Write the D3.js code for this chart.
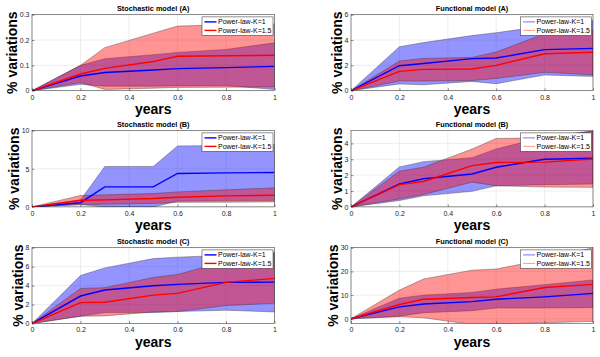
<!DOCTYPE html>
<html>
<head>
<meta charset="utf-8">
<script src="https://cdn.jsdelivr.net/npm/d3@7"></script>
<style>
  body { margin: 0; background: #fff; }
  svg { display: block; font-family: "Liberation Sans", Arial, Helvetica, sans-serif; }
</style>
</head>
<body>
<svg id="chart" width="600" height="357"></svg>
<script>
// sample times (years)
const years = [0, 0.2, 0.3, 0.5, 0.6, 0.8, 1];
const xTicks = [0, 0.2, 0.4, 0.6, 0.8, 1];
const seriesNames = ["Power-law-K=1", "Power-law-K=1.5"];

// Stochastic model (A)
const stochA_k1    = [0, 0.058, 0.072, 0.082, 0.087, 0.091, 0.096];
const stochA_k1_lo = [0, 0.025, 0.018, 0.018, 0.019, 0.02, 0.005];
const stochA_k1_hi = [0, 0.10, 0.126, 0.142, 0.151, 0.163, 0.189];
const stochA_k15    = [0, 0.066, 0.088, 0.115, 0.136, 0.138, 0.14];
const stochA_k15_lo = [0, 0.032, 0.005, 0.01, 0.013, 0.014, 0.015];
const stochA_k15_hi = [0, 0.10, 0.17, 0.227, 0.255, 0.26, 0.263];
const stochA_ticks = [0, 0.1, 0.2, 0.3];

// Functional model (A)
const funcA_k1    = [0, 1.97, 2.15, 2.53, 2.58, 3.24, 3.34];
const funcA_k1_lo = [0, 0.53, 0.47, 0.73, 0.55, 1.24, 1.13];
const funcA_k1_hi = [0, 3.47, 3.8, 4.35, 4.58, 5.1, 5.53];
const funcA_k15    = [0, 1.53, 1.68, 1.71, 2.0, 2.92, 3.03];
const funcA_k15_lo = [0, 0.76, 0.76, 0.8, 0.97, 1.45, 1.26];
const funcA_k15_hi = [0, 2.34, 2.55, 2.63, 3.05, 4.5, 4.76];
const funcA_ticks = [0, 2, 4, 6];

// Stochastic model (B)
const stochB_k1    = [0, 0.55, 2.63, 2.63, 4.39, 4.47, 4.52];
const stochB_k1_lo = [0, 0.3, 0, 0, 0.75, 0.8, 0.85];
const stochB_k1_hi = [0, 0.9, 5.3, 5.3, 8.0, 8.07, 8.2];
const stochB_k15    = [0, 0.88, 0.92, 1.1, 1.27, 1.45, 1.53];
const stochB_k15_lo = [0, 0.3, 0.35, 0.45, 0.6, 0.62, 0.65];
const stochB_k15_hi = [0, 1.5, 1.58, 1.75, 1.97, 2.24, 2.5];
const stochB_ticks = [0, 5, 10];

// Functional model (B)
const funcB_k1    = [0, 1.44, 1.77, 2.07, 2.5, 3.0, 3.06];
const funcB_k1_lo = [0, 0.4, 0.7, 0.98, 1.33, 1.4, 1.44];
const funcB_k1_hi = [0, 2.52, 2.85, 3.1, 3.65, 4.4, 4.8];
const funcB_k15    = [0, 1.4, 1.6, 2.6, 2.8, 2.82, 3.02];
const funcB_k15_lo = [0, 0.5, 0.78, 1.56, 1.33, 1.25, 1.23];
const funcB_k15_hi = [0, 2.25, 2.5, 3.64, 4.31, 4.35, 4.77];
const funcB_ticks = [0, 1, 2, 3, 4];

// Stochastic model (C)
const stochC_k1    = [0, 2.9, 3.53, 3.99, 4.13, 4.34, 4.37];
const stochC_k1_lo = [0, 0.77, 1.15, 1.15, 1.26, 1.4, 1.22];
const stochC_k1_hi = [0, 5.07, 5.87, 6.85, 7.0, 7.2, 7.55];
const stochC_k15    = [0, 2.2, 2.24, 3.0, 3.18, 4.34, 4.76];
const stochC_k15_lo = [0, 0.77, 0.8, 1.22, 1.26, 1.89, 2.13];
const stochC_k15_hi = [0, 3.7, 3.78, 4.86, 5.17, 6.57, 7.35];
const stochC_ticks = [0, 2, 4, 6, 8];

// Functional model (C)
const funcC_k1    = [0, 5.0, 6.26, 7.25, 8.25, 9.25, 10.7];
const funcC_k1_lo = [0, 1.1, 2.56, 3.4, 4.55, 4.55, 4.7];
const funcC_k1_hi = [0, 8.7, 9.96, 11.1, 12.5, 14.4, 16.4];
const funcC_k15    = [0, 6.0, 8.25, 8.96, 9.25, 13.2, 14.5];
const funcC_k15_lo = [0, 0.85, 0.4, -2.4, -2.2, -1.7, -1.1];
const funcC_k15_hi = [0, 12.1, 16.8, 20.5, 21.0, 25.0, 30.0];
const funcC_ticks = [0, 10, 20, 30];

// layout of the 3x2 grid of axes
const cols = [{ left: 32, right: 274.5 }, { left: 351, right: 593 }];
const rows = [{ top: 14.7, bottom: 90.7 }, { top: 130.7, bottom: 206.9 }, { top: 247.7, bottom: 323.5 }];

const panels = [
  { title: "Stochastic model (A)", col: 0, row: 0, ydom: [0, 0.3], ticks: stochA_ticks,
    k1: [stochA_k1, stochA_k1_lo, stochA_k1_hi], k15: [stochA_k15, stochA_k15_lo, stochA_k15_hi], thin: false },
  { title: "Functional model (A)", col: 1, row: 0, ydom: [0, 6], ticks: funcA_ticks,
    k1: [funcA_k1, funcA_k1_lo, funcA_k1_hi], k15: [funcA_k15, funcA_k15_lo, funcA_k15_hi], thin: true },
  { title: "Stochastic model (B)", col: 0, row: 1, ydom: [0, 10], ticks: stochB_ticks,
    k1: [stochB_k1, stochB_k1_lo, stochB_k1_hi], k15: [stochB_k15, stochB_k15_lo, stochB_k15_hi], thin: false },
  { title: "Functional model (B)", col: 1, row: 1, ydom: [0, 4.8], ticks: funcB_ticks,
    k1: [funcB_k1, funcB_k1_lo, funcB_k1_hi], k15: [funcB_k15, funcB_k15_lo, funcB_k15_hi], thin: true },
  { title: "Stochastic model (C)", col: 0, row: 2, ydom: [0, 8], ticks: stochC_ticks,
    k1: [stochC_k1, stochC_k1_lo, stochC_k1_hi], k15: [stochC_k15, stochC_k15_lo, stochC_k15_hi], thin: false },
  { title: "Functional model (C)", col: 1, row: 2, ydom: [-2, 30], ticks: funcC_ticks,
    k1: [funcC_k1, funcC_k1_lo, funcC_k1_hi], k15: [funcC_k15, funcC_k15_lo, funcC_k15_hi], thin: true }
];

const svg = d3.select("#chart");
const axisColor = "#262626";

panels.forEach((p, i) => {
  const c = cols[p.col], r = rows[p.row];
  const x = d3.scaleLinear().domain([0, 1]).range([c.left, c.right]);
  const y = d3.scaleLinear().domain(p.ydom).range([r.bottom, r.top]);
  const g = svg.append("g");

  g.append("clipPath").attr("id", "clip" + i)
    .append("rect")
    .attr("x", c.left).attr("y", r.top)
    .attr("width", c.right - c.left).attr("height", r.bottom - r.top);

  // grid
  g.append("g").selectAll("line").data(xTicks).join("line")
    .attr("x1", d => x(d)).attr("x2", d => x(d))
    .attr("y1", r.top).attr("y2", r.bottom)
    .attr("stroke", "#e3e3e3").attr("stroke-width", 0.6);
  g.append("g").selectAll("line").data(p.ticks).join("line")
    .attr("x1", c.left).attr("x2", c.right)
    .attr("y1", d => y(d)).attr("y2", d => y(d))
    .attr("stroke", "#e3e3e3").attr("stroke-width", 0.6);

  const plot = g.append("g").attr("clip-path", `url(#clip${i})`);

  // shaded bands (blue under red)
  const area = d3.area()
    .x((d, j) => x(years[j]))
    .y0(d => y(d[0]))
    .y1(d => y(d[1]));
  const bands = [
    { s: p.k1, color: "#0000ff" },
    { s: p.k15, color: "#ff0000" }
  ];
  bands.forEach(b => {
    const band = years.map((_, j) => [b.s[1][j], b.s[2][j]]);
    plot.append("path")
      .attr("d", area(band))
      .attr("fill", b.color)
      .attr("fill-opacity", 0.42)
      .attr("stroke", "#333")
      .attr("stroke-opacity", 0.55)
      .attr("stroke-width", 0.7);
  });

  // mean lines
  const line = d3.line().x((d, j) => x(years[j])).y(d => y(d));
  bands.forEach(b => {
    plot.append("path")
      .attr("d", line(b.s[0]))
      .attr("fill", "none")
      .attr("stroke", b.color)
      .attr("stroke-width", 1.4);
  });

  // axes
  const xAxis = g.append("g")
    .attr("transform", `translate(0,${r.bottom})`)
    .call(d3.axisBottom(x).tickValues(xTicks).tickSize(-2.5).tickPadding(4).tickFormat(d => String(d)));
  const yAxis = g.append("g")
    .attr("transform", `translate(${c.left},0)`)
    .call(d3.axisLeft(y).tickValues(p.ticks).tickSize(-2.5).tickPadding(2.5).tickFormat(d => String(d)));
  [xAxis, yAxis].forEach(a => {
    a.select(".domain").remove();
    a.attr("font-size", 7).attr("font-family", null);
    a.selectAll("line").attr("stroke", axisColor).attr("stroke-width", 0.5);
    a.selectAll("text").attr("fill", axisColor);
  });

  // box
  g.append("rect")
    .attr("x", c.left).attr("y", r.top)
    .attr("width", c.right - c.left).attr("height", r.bottom - r.top)
    .attr("fill", "none").attr("stroke", axisColor).attr("stroke-width", 0.5);

  // title
  g.append("text")
    .attr("x", (c.left + c.right) / 2).attr("y", r.top - 3.8)
    .attr("text-anchor", "middle")
    .attr("font-size", 7.3).attr("font-weight", "bold")
    .text(p.title);

  // axis labels
  g.append("text")
    .attr("x", (c.left + c.right) / 2).attr("y", r.bottom + 23)
    .attr("text-anchor", "middle")
    .attr("font-size", 14).attr("font-weight", "bold")
    .text("years");

  let tw = 0;
  yAxis.selectAll("text").each(function () { tw = Math.max(tw, this.getComputedTextLength()); });
  const lx = c.left - tw - 5.5;
  g.append("text")
    .attr("transform", `translate(${lx},${(r.top + r.bottom) / 2}) rotate(-90)`)
    .attr("text-anchor", "middle")
    .attr("font-size", 14).attr("font-weight", "bold")
    .text("% variations");

  // legend
  const lw = 71, lh = 18.5;
  const lxr = c.right - 1.5 - lw, lyt = r.top + 2.2;
  const leg = g.append("g").attr("transform", `translate(${lxr},${lyt})`);
  leg.append("rect")
    .attr("width", lw).attr("height", lh)
    .attr("fill", "#fff").attr("stroke", axisColor).attr("stroke-width", 0.5);
  bands.forEach((b, k) => {
    const ly = 5 + k * 8.5;
    leg.append("line")
      .attr("x1", 2.5).attr("x2", 14.5).attr("y1", ly).attr("y2", ly)
      .attr("stroke", b.color)
      .attr("stroke-width", p.thin ? 1 : 1.4)
      .attr("stroke-opacity", p.thin ? (k === 0 ? 0.55 : 0.4) : 1);
    leg.append("text")
      .attr("x", 16).attr("y", ly + 2.5)
      .attr("font-size", 7)
      .text(seriesNames[k]);
  });
});
</script>
</body>
</html>
